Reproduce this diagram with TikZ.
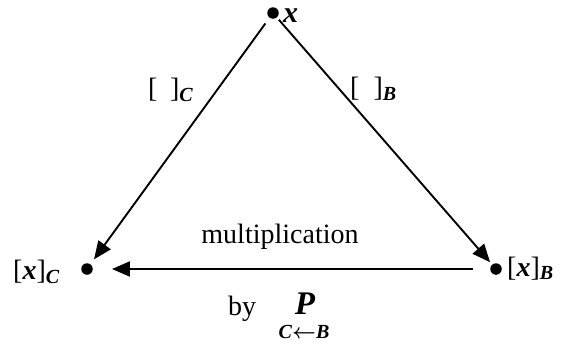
\documentclass[tikz,border=0pt]{standalone}
\usepackage{fontspec}
\setmainfont{Liberation Serif}
\usetikzlibrary{arrows.meta}
\newcommand{\bi}[1]{\textbf{\textit{#1}}}
\newcommand{\sbi}[1]{{\fontsize{20}{20}\selectfont\textbf{\textit{#1}}}}
\begin{document}
\begin{tikzpicture}[x=1pt,y=-1pt,
  lbl/.style={inner sep=0pt, anchor=base west, font=\fontsize{28}{30}\selectfont},
  arr/.style={line width=1.9pt, -{Triangle[length=18pt,width=15pt]}},
  dot/.style={circle, fill=black, draw=none, inner sep=0pt, minimum size=11.5pt}]
\useasboundingbox (0,0) rectangle (562,343);
\node[dot] (X) at (273,13) {};
\node[dot] (XC) at (87,269) {};
\node[dot] (XB) at (496,269) {};
\draw[arr, shorten <=7pt, shorten >=6pt] (X) -- (XC);
\draw[arr, shorten <=3pt, shorten >=3pt] (X) -- (XB);
\draw[arr, shorten <=17pt, shorten >=19pt] (XB) -- (XC);
\node[lbl, font=\fontsize{30}{30}\selectfont] (xl) at (283,22) {\bi{x}};
\node[lbl] (xcl) at (13,279) {[\bi{x}]\raisebox{-4pt}{\sbi{C}}};
\node[lbl] (xbl) at (507,276) {[\bi{x}]\raisebox{-3pt}{\sbi{B}}};
\node[lbl] (cl) at (148,97) {[\hspace{0.45em}]\raisebox{-4pt}{\sbi{C}}};
\node[lbl] (bl) at (350,96) {[\hspace{0.5em}]\raisebox{-4pt}{\sbi{B}}};
\node[lbl, anchor=base] (mul) at (280,243) {multiplication};
\node[lbl] (by) at (228,315) {by};
\node[inner sep=0pt, anchor=base] (P) at (305,314) {\fontsize{33}{33}\selectfont\bi{P}};
\node[inner sep=0pt, anchor=base] (CB) at (304,338) {\sbi{C}{\fontsize{20}{20}\selectfont\boldmath$\leftarrow$}\sbi{B}};
\end{tikzpicture}
\end{document}
